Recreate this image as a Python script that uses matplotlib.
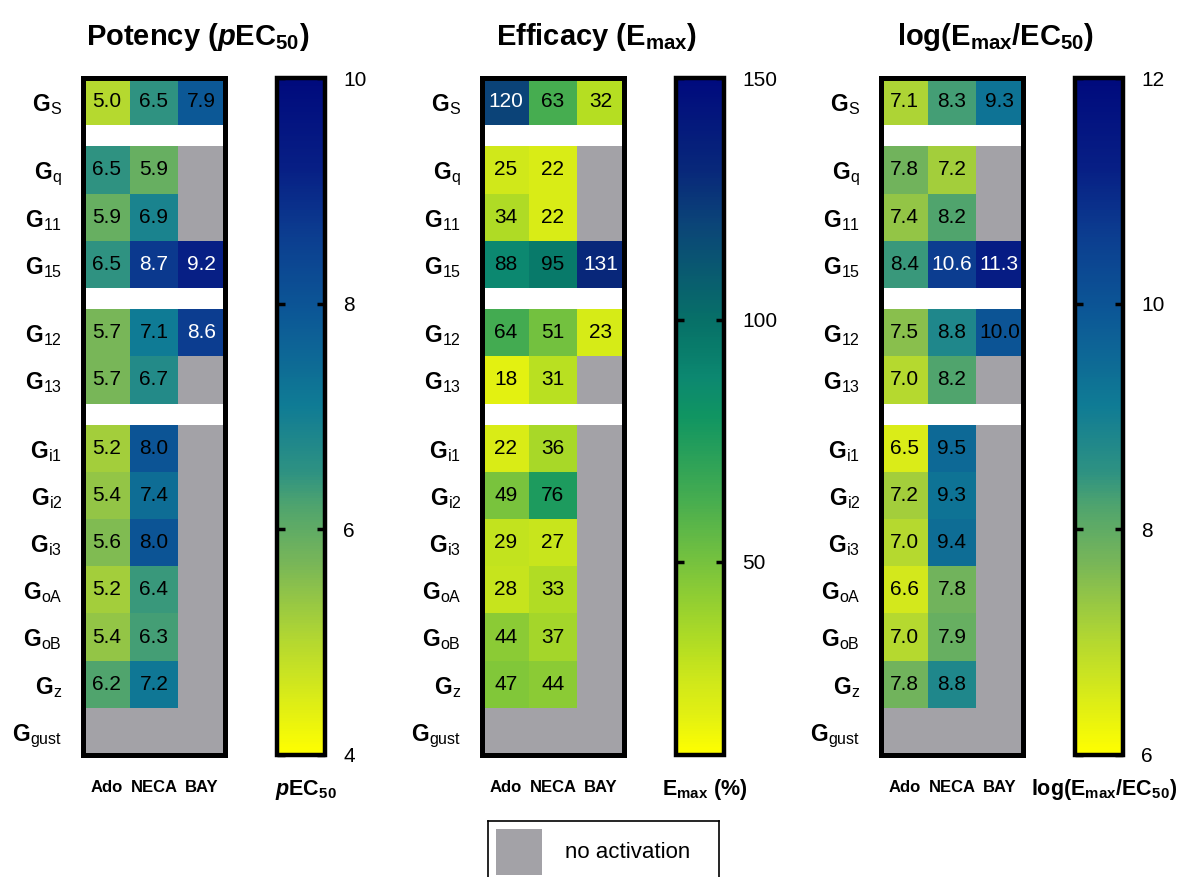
import numpy as np
import matplotlib
matplotlib.use('Agg')
import matplotlib.pyplot as plt
from matplotlib.colors import LinearSegmentedColormap, ListedColormap, Normalize
from matplotlib.cm import ScalarMappable
from matplotlib.patches import Rectangle

plt.rcParams['font.family'] = 'Liberation Sans'
plt.rcParams['mathtext.fontset'] = 'custom'
plt.rcParams['mathtext.rm'] = 'Liberation Sans'
plt.rcParams['mathtext.it'] = 'Liberation Sans:italic'
plt.rcParams['mathtext.bf'] = 'Liberation Sans:bold'
try:
    plt.rcParams['mathtext.bfit'] = 'Liberation Sans:italic:bold'
except KeyError:
    pass

nan = np.nan

# G protein subtypes (subscripts), gaps after Gs, G15, G13
g_subs = ['S', 'q', '11', '15', '12', '13', 'i1', 'i2', 'i3', 'oA', 'oB', 'z', 'gust']
gap_after = [0, 3, 5]
ligands = ['Ado', 'NECA', 'BAY']

potency = [[5.0, 6.5, 7.9], [6.5, 5.9, nan], [5.9, 6.9, nan], [6.5, 8.7, 9.2],
           [5.7, 7.1, 8.6], [5.7, 6.7, nan], [5.2, 8.0, nan], [5.4, 7.4, nan],
           [5.6, 8.0, nan], [5.2, 6.4, nan], [5.4, 6.3, nan], [6.2, 7.2, nan],
           [nan, nan, nan]]
efficacy = [[120, 63, 32], [25, 22, nan], [34, 22, nan], [88, 95, 131],
            [64, 51, 23], [18, 31, nan], [22, 36, nan], [49, 76, nan],
            [29, 27, nan], [28, 33, nan], [44, 37, nan], [47, 44, nan],
            [nan, nan, nan]]
logratio = [[7.1, 8.3, 9.3], [7.8, 7.2, nan], [7.4, 8.2, nan], [8.4, 10.6, 11.3],
            [7.5, 8.8, 10.0], [7.0, 8.2, nan], [6.5, 9.5, nan], [7.2, 9.3, nan],
            [7.0, 9.4, nan], [6.6, 7.8, nan], [7.0, 7.9, nan], [7.8, 8.8, nan],
            [nan, nan, nan]]

cmap_blue = LinearSegmentedColormap.from_list('pot', [
    (0.0, '#ffff00'), (0.167, '#b4d830'), (0.283, '#78b658'), (0.367, '#4fa46e'),
    (0.417, '#2e9282'), (0.517, '#0f7b95'), (0.65, '#0c5896'), (0.767, '#0c3e90'),
    (0.867, '#071f85'), (1.0, '#000a7d')])
cmap_green = LinearSegmentedColormap.from_list('eff', [
    (0.0, '#ffff00'), (0.057, '#e2f012'), (0.107, '#d0e81a'), (0.157, '#b5de22'),
    (0.293, '#72c040'), (0.379, '#45ac50'), (0.5, '#109562'), (0.557, '#0c8870'),
    (0.607, '#087a6a'), (0.643, '#077068'), (0.786, '#0b4478'), (0.864, '#08287a'),
    (1.0, '#000a7e')])
gray = '#a3a2a7'

panels = [
    dict(vals=potency, cmap=cmap_blue, vmin=4, vmax=10, ticks=[4, 6, 8, 10], fmt='{:.1f}', white=8.3,
         title=r'Potency ($\mathbfit{p}$EC$_{\mathbf{50}}$)', clabel=r'$\mathbfit{p}$EC$_{\mathbf{50}}$'),
    dict(vals=efficacy, cmap=cmap_green, vmin=10, vmax=150, ticks=[50, 100, 150], fmt='{:.0f}', white=110,
         title=r'Efficacy (E$_{\mathbf{max}}$)', clabel=r'E$_{\mathbf{max}}$ (%)'),
    dict(vals=logratio, cmap=cmap_blue, vmin=6, vmax=12, ticks=[6, 8, 10, 12], fmt='{:.1f}', white=10.3,
         title=r'log(E$_{\mathbf{max}}$/EC$_{\mathbf{50}}$)', clabel=r'log(E$_{\mathbf{max}}$/EC$_{\mathbf{50}}$)'),
]

W, H = 1182, 877
fig = plt.figure(figsize=(W / 100, H / 100), dpi=100)

gap = 0.45
x_edges = np.arange(4)

for k, p in enumerate(panels):
    vals = np.array(p['vals'], dtype=float)
    # stack rows with white gap rows in between groups
    z_rows, g_rows, y_edges, centers = [], [], [0.0], []
    y = 0.0
    for i, row in enumerate(vals):
        z_rows.append(row)
        g_rows.append([1.0, 1.0, 1.0])
        centers.append(y + 0.5)
        y += 1
        y_edges.append(y)
        if i in gap_after:
            z_rows.append([nan] * 3)
            g_rows.append([nan] * 3)
            y += gap
            y_edges.append(y)
    Z = np.ma.masked_invalid(np.array(z_rows))
    G = np.ma.masked_invalid(np.array(g_rows))

    off = 399 * k
    ax = fig.add_axes([(83 + off) / W, 122 / H, 142 / W, 677 / H])
    ax.pcolormesh(x_edges, y_edges, G, cmap=ListedColormap([gray]), vmin=0, vmax=2)
    norm = Normalize(p['vmin'], p['vmax'])
    ax.pcolormesh(x_edges, y_edges, Z, cmap=p['cmap'], norm=norm)
    ax.set_xlim(0, 3)
    ax.set_ylim(y_edges[-1], 0)

    for i, row in enumerate(vals):
        for j, v in enumerate(row):
            if np.isnan(v):
                continue
            ax.text(j + 0.5, centers[i], p['fmt'].format(v), ha='center', va='center',
                    fontsize=15, color='white' if v > p['white'] else 'black')

    ax.set_yticks(centers)
    ax.set_yticklabels([r'$\mathbf{G}_{\mathrm{%s}}$' % s for s in g_subs], fontsize=16.5)
    ax.set_xticks(x_edges[:-1] + 0.5)
    ax.set_xticklabels(ligands, fontsize=12, fontweight='bold')
    ax.tick_params(axis='y', length=0, pad=15)
    ax.tick_params(axis='x', length=0, pad=18)
    for s in ax.spines.values():
        s.set_linewidth(3.6)

    cax = fig.add_axes([(276.5 + off) / W, 122 / H, 48.5 / W, 677 / H])
    cb = fig.colorbar(ScalarMappable(norm=norm, cmap=p['cmap']), cax=cax)
    cb.outline.set_linewidth(3.2)
    cb.set_ticks(p['ticks'])
    cax.tick_params(direction='in', left=True, right=True, labelleft=False, labelright=True,
                    length=6, width=2.5, pad=13, labelsize=15)
    cax.text(0.6, -0.051, p['clabel'], transform=cax.transAxes, ha='center', va='center',
             fontsize=15.5, fontweight='bold')

    fig.text((198 + off) / W, 1 - 37 / H, p['title'], ha='center', va='center',
             fontsize=21, fontweight='bold')

# legend box (bottom edge runs off the figure)
lax = fig.add_axes([488 / W, -30 / H, 231 / W, 86 / H])
lax.set_xlim(0, 231)
lax.set_ylim(0, 86)
lax.set_xticks([])
lax.set_yticks([])
lax.spines['bottom'].set_visible(False)
for s in ['top', 'left', 'right']:
    lax.spines[s].set_linewidth(1.2)
lax.add_patch(Rectangle((8, 32), 46, 46, facecolor=gray, edgecolor='none'))
lax.text(77, 54, 'no activation', fontsize=16, va='center', ha='left')

fig.savefig('out.png', dpi=100)
